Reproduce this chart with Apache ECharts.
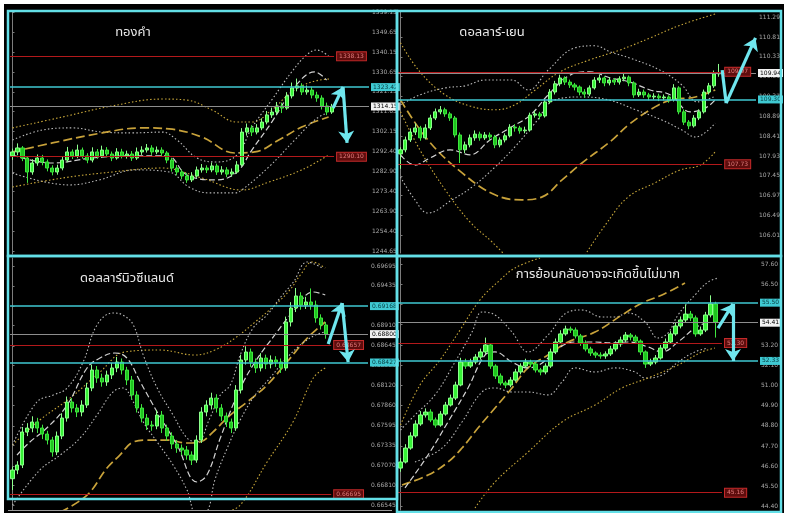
<!DOCTYPE html>
<html><head><meta charset="utf-8">
<script src="https://cdn.jsdelivr.net/npm/echarts@6/dist/echarts.min.js"></script>
<style>html,body{margin:0;padding:0;background:#fff}#c{width:788px;height:518px}</style>
</head><body><div id="c"></div>
<script>
// ---------- titles ----------
const titles = ['ทองคำ', 'ดอลลาร์-เยน', 'ดอลลาร์นิวซีแลนด์', 'การย้อนกลับอาจจะเกิดขึ้นไม่มาก'];

// ---------- y-axis tick labels ----------
const ticks1 = [1244.65,1254.40,1263.90,1273.40,1282.90,1292.40,1302.15,1311.65,1321.15,1330.65,1340.15,1349.65,1359.15];
const ticks2 = [106.01,106.49,106.97,107.45,107.93,108.41,108.89,109.37,109.85,110.33,110.81,111.29];
const ticks3 = [0.66545,0.66810,0.67070,0.67335,0.67595,0.67860,0.68120,0.68385,0.68645,0.68910,0.69170,0.69435,0.69695];
const ticks4 = [44.40,45.50,46.60,47.70,48.80,49.90,51.00,52.10,53.20,54.30,55.40,56.50,57.60];

// ---------- candles [open, close, low, high] ----------
const gold = [
[1290.5,1292.4,1288.6,1294.0],[1292.4,1294.3,1290.8,1296.5],[1294.3,1289.5,1288.0,1295.2],[1289.5,1282.8,1277.6,1290.4],
[1282.8,1287.1,1281.5,1288.9],[1287.1,1289.5,1285.8,1291.2],[1289.5,1287.6,1286.0,1291.0],[1287.6,1284.7,1283.1,1288.8],
[1284.7,1282.8,1281.2,1286.0],[1282.8,1284.7,1281.5,1286.3],[1284.7,1288.5,1283.6,1290.0],[1288.5,1292.4,1287.5,1294.8],
[1292.4,1290.5,1289.0,1293.6],[1290.5,1293.3,1289.4,1295.9],[1293.3,1290.5,1289.2,1294.5],[1290.5,1288.5,1287.0,1291.8],
[1288.5,1292.4,1287.4,1294.6],[1292.4,1290.5,1289.1,1293.8],[1290.5,1293.3,1289.5,1295.4],[1293.3,1291.4,1290.0,1294.7],
[1291.4,1289.5,1288.0,1292.6],[1289.5,1292.4,1288.7,1294.2],[1292.4,1290.5,1289.3,1293.9],[1290.5,1291.4,1289.2,1293.0],
[1291.4,1289.5,1288.1,1292.8],[1289.5,1292.4,1288.6,1294.5],[1292.4,1293.3,1291.0,1295.1],[1293.3,1294.3,1292.1,1296.2],
[1294.3,1292.4,1291.0,1295.6],[1292.4,1293.3,1291.3,1295.0],[1293.3,1291.9,1290.4,1294.6],[1291.9,1288.5,1287.0,1292.8],
[1288.5,1284.7,1283.0,1289.6],[1284.7,1282.8,1281.2,1286.1],[1282.8,1280.9,1279.3,1284.0],[1280.9,1279.0,1277.6,1282.4],
[1279.0,1280.9,1278.0,1282.7],[1280.9,1283.8,1280.0,1285.4],[1283.8,1284.7,1282.5,1286.6],[1284.7,1283.8,1282.3,1286.0],
[1283.8,1285.7,1282.7,1287.3],[1285.7,1282.8,1281.4,1286.8],[1282.8,1283.8,1281.5,1285.6],[1283.8,1281.8,1280.4,1285.1],
[1281.8,1282.8,1280.6,1284.5],[1282.8,1286.2,1281.9,1288.0],[1286.2,1301.9,1285.4,1303.8],[1301.9,1303.9,1300.2,1306.0],
[1303.9,1301.9,1300.0,1305.2],[1301.9,1303.9,1300.8,1305.7],[1303.9,1306.7,1302.8,1308.5],[1306.7,1310.1,1305.6,1312.0],
[1310.1,1311.5,1308.7,1313.6],[1311.5,1314.4,1310.3,1316.3],[1314.4,1313.4,1311.0,1316.0],[1313.4,1319.2,1312.6,1321.0],
[1319.2,1323.0,1318.0,1325.6],[1323.0,1324.0,1321.4,1327.5],[1324.0,1321.1,1319.6,1325.3],[1321.1,1322.0,1319.8,1324.2],
[1322.0,1319.6,1318.0,1323.6],[1319.6,1318.2,1316.4,1321.2],[1318.2,1314.4,1312.7,1319.5],[1314.4,1311.5,1310.0,1316.0],
[1311.5,1314.2,1310.6,1315.4]];

const usdjpy = [
[107.98,108.08,107.62,108.14],[108.08,108.32,108.02,108.40],[108.32,108.51,108.27,108.60],[108.51,108.61,108.44,108.72],
[108.61,108.37,108.30,108.66],[108.37,108.61,108.33,108.70],[108.61,108.85,108.56,108.93],[108.85,109.00,108.80,109.08],
[109.00,109.05,108.94,109.14],[109.05,108.95,108.88,109.10],[108.95,108.85,108.78,109.00],[108.85,108.44,108.38,108.90],
[108.44,108.08,107.76,108.50],[108.08,108.20,108.00,108.28],[108.20,108.37,108.14,108.45],[108.37,108.46,108.30,108.55],
[108.46,108.37,108.30,108.52],[108.37,108.44,108.32,108.51],[108.44,108.39,108.31,108.50],[108.39,108.20,108.12,108.44],
[108.20,108.32,108.14,108.38],[108.32,108.42,108.26,108.48],[108.42,108.63,108.38,108.70],[108.63,108.61,108.52,108.70],
[108.61,108.54,108.47,108.66],[108.54,108.56,108.48,108.64],[108.56,108.92,108.52,108.98],[108.92,108.95,108.86,109.03],
[108.95,108.90,108.82,109.00],[108.90,109.24,108.86,109.30],[109.24,109.48,109.20,109.55],[109.48,109.68,109.42,109.75],
[109.68,109.82,109.62,109.90],[109.82,109.72,109.65,109.86],[109.72,109.65,109.58,109.78],[109.65,109.60,109.52,109.70],
[109.60,109.48,109.40,109.64],[109.48,109.43,109.34,109.55],[109.43,109.58,109.38,109.64],[109.58,109.77,109.54,109.84],
[109.77,109.82,109.70,109.90],[109.82,109.70,109.62,109.86],[109.70,109.77,109.64,109.84],[109.77,109.72,109.65,109.82],
[109.72,109.80,109.66,109.86],[109.80,109.84,109.74,109.92],[109.84,109.70,109.62,109.88],[109.70,109.41,109.34,109.74],
[109.41,109.48,109.36,109.56],[109.48,109.41,109.34,109.54],[109.41,109.36,109.28,109.46],[109.36,109.38,109.30,109.45],
[109.38,109.34,109.26,109.44],[109.34,109.36,109.28,109.42],[109.36,109.29,109.22,109.40],[109.29,109.58,109.25,109.67],
[109.58,109.00,108.94,109.62],[109.00,108.75,108.68,109.06],[108.75,108.66,108.58,108.80],[108.66,108.85,108.62,108.92],
[108.85,109.00,108.80,109.06],[109.00,109.48,108.96,109.54],[109.48,109.63,109.42,109.70],[109.63,109.92,109.58,110.00],
[109.92,109.94,109.85,110.16]];

const nzdusd = [
[0.66900,0.67014,0.66751,0.67060],[0.67014,0.67080,0.66960,0.67130],[0.67080,0.67514,0.67040,0.67580],[0.67514,0.67566,0.67460,0.67630],
[0.67566,0.67645,0.67510,0.67720],[0.67645,0.67566,0.67500,0.67700],[0.67566,0.67487,0.67420,0.67610],[0.67487,0.67408,0.67350,0.67530],
[0.67408,0.67251,0.67190,0.67450],[0.67251,0.67461,0.67210,0.67520],[0.67461,0.67697,0.67420,0.67760],[0.67697,0.67908,0.67650,0.67980],
[0.67908,0.67829,0.67770,0.67960],[0.67829,0.67776,0.67710,0.67880],[0.67776,0.67868,0.67720,0.67930],[0.67868,0.68092,0.67830,0.68160],
[0.68092,0.68328,0.68050,0.68400],[0.68328,0.68223,0.68160,0.68380],[0.68223,0.68171,0.68110,0.68280],[0.68171,0.68263,0.68120,0.68320],
[0.68263,0.68355,0.68210,0.68420],[0.68355,0.68433,0.68300,0.68500],[0.68433,0.68328,0.68270,0.68480],[0.68328,0.68197,0.68130,0.68370],
[0.68197,0.68000,0.67940,0.68250],[0.68000,0.67829,0.67770,0.68050],[0.67829,0.67697,0.67640,0.67880],[0.67697,0.67606,0.67540,0.67750],
[0.67606,0.67592,0.67530,0.67660],[0.67592,0.67737,0.67550,0.67800],[0.67737,0.67566,0.67500,0.67790],[0.67566,0.67461,0.67400,0.67610],
[0.67461,0.67356,0.67290,0.67510],[0.67356,0.67303,0.67240,0.67410],[0.67303,0.67277,0.67210,0.67350],[0.67277,0.67211,0.67150,0.67330],
[0.67211,0.67145,0.67080,0.67260],[0.67145,0.67408,0.67110,0.67470],[0.67408,0.67776,0.67370,0.67840],[0.67776,0.67868,0.67720,0.67930],
[0.67868,0.67960,0.67810,0.68030],[0.67960,0.67829,0.67770,0.68010],[0.67829,0.67724,0.67660,0.67880],[0.67724,0.67645,0.67580,0.67770],
[0.67645,0.67566,0.67500,0.67690],[0.67566,0.68066,0.67530,0.68130],[0.68066,0.68460,0.68020,0.68530],[0.68460,0.68565,0.68400,0.68640],
[0.68565,0.68433,0.68370,0.68610],[0.68433,0.68355,0.68290,0.68480],[0.68355,0.68486,0.68310,0.68550],[0.68486,0.68407,0.68340,0.68530],
[0.68407,0.68460,0.68350,0.68520],[0.68460,0.68433,0.68370,0.68510],[0.68433,0.68355,0.68290,0.68480],[0.68355,0.68959,0.68320,0.69030],
[0.68959,0.69143,0.68900,0.69220],[0.69143,0.69301,0.69090,0.69406],[0.69301,0.69182,0.69120,0.69350],[0.69182,0.69222,0.69130,0.69290],
[0.69222,0.69182,0.69120,0.69400],[0.69182,0.69012,0.68950,0.69240],[0.69012,0.68920,0.68860,0.69060],[0.68920,0.68801,0.68740,0.68960]];

const oil = [
[46.50,46.83,46.30,47.05],[46.83,47.59,46.75,47.80],[47.59,48.25,47.50,48.45],[48.25,48.90,48.15,49.10],
[48.90,49.39,48.80,49.60],[49.39,49.55,49.25,49.75],[49.55,49.12,49.00,49.70],[49.12,48.84,48.70,49.25],
[48.84,49.44,48.75,49.60],[49.44,49.93,49.35,50.10],[49.93,50.31,49.85,50.50],[50.31,51.02,50.20,51.20],
[51.02,52.27,50.95,52.50],[52.27,52.05,51.90,52.45],[52.05,52.27,51.95,52.45],[52.27,52.54,52.15,52.70],
[52.54,52.82,52.40,53.00],[52.82,53.20,52.70,53.60],[53.20,52.05,51.90,53.30],[52.05,51.51,51.35,52.15],
[51.51,51.13,51.00,51.65],[51.13,51.02,50.85,51.25],[51.02,51.29,50.90,51.45],[51.29,51.73,51.20,51.90],
[51.73,52.05,51.60,52.20],[52.05,52.27,51.95,52.45],[52.27,52.16,52.00,52.40],[52.16,51.84,51.70,52.30],
[51.84,51.73,51.55,51.95],[51.73,52.05,51.60,52.20],[52.05,52.82,51.95,53.00],[52.82,53.36,52.70,53.55],
[53.36,53.80,53.25,54.00],[53.80,54.07,53.70,54.25],[54.07,54.01,53.85,54.20],[54.01,53.69,53.55,54.15],
[53.69,53.31,53.15,53.80],[53.31,52.98,52.85,53.45],[52.98,52.76,52.60,53.10],[52.76,52.65,52.50,52.85],
[52.65,52.60,52.45,52.80],[52.60,52.71,52.45,52.85],[52.71,52.98,52.60,53.15],[52.98,53.25,52.85,53.40],
[53.25,53.47,53.10,53.65],[53.47,53.74,53.35,53.90],[53.74,53.63,53.45,53.85],[53.63,53.41,53.25,53.75],
[53.41,52.82,52.65,53.50],[52.82,52.16,51.95,52.90],[52.16,52.27,52.05,52.45],[52.27,52.49,52.15,52.65],
[52.49,53.03,52.40,53.20],[53.03,53.36,52.90,53.55],[53.36,53.80,53.25,53.95],[53.80,54.23,53.70,54.40],
[54.23,54.56,54.10,54.75],[54.56,54.88,54.45,55.40],[54.88,54.67,54.50,55.05],[54.67,53.80,53.65,54.80],
[53.80,54.01,53.70,54.20],[54.01,54.83,53.90,55.00],[54.83,55.43,54.70,55.90],[55.43,54.45,53.60,55.55]];

// ---------- envelope / average lines [bar index, value] ----------
const g1GoldUp = [[0,1303.9],[10,1309.1],[20,1314.4],[30,1317.7],[35,1317.2],[40,1312.5],[45,1306.7],[48,1306.7],[52,1312.5],[56,1321.1],[60,1325.9],[63.6,1327.3]];
const g1WhiteUp = [[0,1298.1],[6,1302.9],[12,1303.9],[18,1301.9],[24,1301.5],[30,1301.9],[33,1298.1],[37,1289.5],[41,1287.6],[45,1290.9],[48,1303.9],[52,1317.3],[56,1330.7],[59,1338.8],[61,1341.2],[63.6,1337.8]];
const g1GoldDash = [[0,1292.4],[8,1296.7],[18,1301.5],[26,1303.9],[31.4,1303.4],[38,1299.5],[44.6,1291.9],[48.6,1292.4],[53.4,1298.1],[58,1304.3],[63.4,1309.1]];
const g1WhiteDash = [[0,1290.9],[8,1287.1],[16,1289.5],[24,1290.5],[31,1290.5],[35,1281.4],[41,1279.0],[45,1282.8],[48,1293.3],[52,1306.7],[56.6,1323.5],[60.6,1330.7],[63,1326.8]];
const g1WhiteLow = [[0,1282.3],[11.4,1276.6],[17.4,1279.0],[24.6,1283.8],[31.4,1282.8],[35.4,1275.6],[39.4,1272.8],[44.6,1272.8],[46,1274.2],[51.4,1285.2],[56.6,1298.1],[60.6,1307.7],[63,1311.0]];
const g1GoldLow = [[0,1275.6],[10,1279.9],[20,1282.8],[30,1284.7],[38,1279.9],[46,1274.2],[51.4,1278.0],[58,1283.8],[63.4,1290.9]];

const g2GoldUp = [[0,110.67],[3.9,109.97],[9,109.41],[14,109.14],[19,109.05],[23,109.17],[27.1,109.53],[32.1,109.97],[38.1,110.26],[44.2,110.50],[50.2,110.79],[56.3,111.10],[63.3,111.37]];
const g2WhiteUp = [[0,109.17],[3.9,109.41],[9,109.58],[13,109.63],[17,109.77],[22.4,109.77],[25.7,109.53],[29.7,110.01],[35.1,110.55],[39.1,110.60],[42.2,110.45],[46.2,110.30],[52.2,110.01],[56.6,109.65],[59.7,109.24],[63.3,109.38]];
const g2GoldDash = [[0,109.29],[5.5,108.32],[12.4,107.52],[19,106.99],[24.4,106.87],[28.5,106.94],[32.5,107.35],[36.5,107.76],[42.6,108.32],[45.8,108.68],[51.2,109.12],[54.6,109.29],[59.3,109.36],[63.3,109.53]];
const g2WhiteDash = [[0,107.96],[2.9,107.71],[5.9,107.88],[10,108.08],[14,107.96],[18,108.32],[22,108.61],[26.1,108.92],[29.7,109.41],[34.1,109.89],[38.1,109.97],[42.2,109.82],[46.2,109.72],[50.2,109.53],[54.3,109.41],[58.3,109.00],[61.3,109.09],[63.3,109.29]];
const g2WhiteLow = [[0,107.42],[2.9,106.87],[5.5,106.55],[10.4,106.87],[14.4,107.18],[19,107.66],[23,108.15],[27.1,108.73],[31.1,109.29],[36.5,109.36],[41.8,109.29],[47.3,109.05],[52.6,108.80],[56.6,108.56],[59.3,108.39],[63.3,108.73]];
const g2GoldLowA = [[0,109.00],[3.9,108.08],[9,107.11],[14,106.33],[18.4,105.85],[21,105.53]];
const g2GoldLowB = [[37.1,105.53],[41.2,106.26],[45.8,106.94],[51.2,107.28],[56.2,107.59],[60.3,107.71],[63.3,108.03]];

const g3GoldUp = [[0,0.67343],[5.5,0.67671],[11.6,0.67960],[17.6,0.68302],[22.6,0.68565],[29.7,0.68591],[36.7,0.68525],[40.7,0.68591],[44.8,0.68749],[48.8,0.68959],[52.8,0.69182],[55.8,0.69381],[57.9,0.69577],[60.3,0.69748],[62.9,0.69669]];
const g3WhiteUp = [[0,0.67343],[4.9,0.67908],[8.2,0.68000],[11,0.68092],[14.2,0.68433],[17,0.68920],[20.2,0.69077],[22.2,0.69051],[24.3,0.68920],[26.3,0.68525],[29.1,0.68092],[32.3,0.67737],[35.1,0.67435],[37.1,0.67382],[39.7,0.67697],[41.8,0.68000],[43.8,0.68131],[45.8,0.68525],[48.4,0.68880],[51.2,0.69051],[53.8,0.69275],[56.5,0.69485],[59.3,0.69748],[62.3,0.69669]];
const g3GoldDash = [[9.6,0.66462],[15,0.66685],[19,0.67040],[21.6,0.67211],[24.3,0.67382],[27.1,0.67408],[31.1,0.67408],[35.1,0.67369],[37.7,0.67382],[40.3,0.67513],[43.8,0.67737],[47.2,0.67908],[51.2,0.68131],[55.2,0.68433],[59.3,0.68749],[62.9,0.68959]];
const g3WhiteDash = [[0.9,0.67211],[3.5,0.67382],[6.9,0.67566],[11,0.67868],[15,0.68355],[17.6,0.68486],[20.6,0.68552],[23,0.68486],[25.7,0.68171],[29.1,0.67776],[33.1,0.67343],[37.1,0.66857],[39.1,0.66949],[41.8,0.67435],[45.2,0.68000],[48.4,0.68394],[53.2,0.68828],[56.4,0.69090],[60.5,0.69353],[62.9,0.69314]];
const g3WhiteLow = [[0,0.66554],[5.5,0.67014],[9.6,0.67211],[13.6,0.67435],[17,0.67737],[20.2,0.68039],[22.2,0.68092],[24.3,0.67908],[26.3,0.67645],[29.1,0.67382],[32.3,0.67080],[35.1,0.66751],[37.1,0.66422],[39.1,0.66462],[40.7,0.66883],[43.2,0.67303],[45.8,0.67671],[48.8,0.68000],[51.8,0.68223],[54.8,0.68460],[57.9,0.68657],[60.9,0.68788],[62.9,0.68828]];
const g3GoldLow = [[42.8,0.66462],[45.8,0.66554],[51.2,0.67119],[56.4,0.67645],[60.5,0.68223],[62.9,0.68355]];

const g4GoldUp = [[0,48.84],[3.9,51.02],[7.9,52.38],[11.9,54.01],[15.9,55.65],[19.9,56.73],[22.9,57.39],[27.9,57.93]];
const g4WhiteUp = [[0,48.57],[2.9,49.39],[6.9,50.48],[10.9,52.27],[14.3,53.90],[16.3,54.99],[18.9,54.83],[22.3,53.90],[25.5,52.82],[29.5,53.74],[33.5,54.99],[36.3,55.10],[40.3,54.72],[42.9,54.72],[45.5,54.94],[48.9,54.45],[51.5,53.58],[53.5,53.85],[55.5,54.83],[58.9,55.92],[61.5,56.62],[63.5,56.84]];
const g4GoldDash = [[0.3,45.58],[5.5,46.12],[9.5,46.83],[12.3,47.59],[15.5,48.68],[18.9,49.77],[22.3,50.86],[25.5,51.95],[29.5,52.65],[33.5,53.36],[38.9,53.90],[44.3,54.83],[48.3,55.48],[52.3,55.92],[56.9,56.57]];
const g4WhiteDash = [[0.9,45.42],[5.5,47.21],[9.5,49.01],[13.5,50.86],[16.9,52.65],[18.9,52.82],[22.3,52.27],[25.5,51.95],[34.9,53.36],[38.9,53.36],[42.3,53.31],[45.5,53.36],[49.5,53.09],[52.3,52.82],[55.5,53.36],[58.9,54.12],[61.5,54.45]];
const g4WhiteLow = [[2.9,46.83],[8.3,47.59],[12.3,49.01],[16.3,50.64],[18.9,50.86],[22.3,50.64],[25.5,50.64],[29.5,50.48],[32.3,51.18],[34.9,51.95],[38.9,51.73],[42.9,51.95],[46.9,51.73],[48.9,51.40],[52.3,51.56],[55.5,52.27],[58.9,52.82],[61.5,53.03]];
const g4GoldLow = [[14.9,44.33],[18.9,45.74],[25.5,47.37],[32.3,49.01],[38.9,49.93],[44.3,50.86],[49.5,51.40],[55.5,52.11],[60.3,52.82],[62.9,53.03]];

// ---------- horizontal levels ----------
const red1 = [1338.13, 1290.10], cyan1 = [1323.42], white1 = [1314.15];
const red2 = [109.97, 107.73], cyan2 = [109.30], white2 = [109.94];
const red3 = [0.68657, 0.66695], cyan3 = [0.69168, 0.68427], white3 = [0.68800];
const red4 = [53.30, 45.16], cyan4 = [55.50, 52.33], white4 = [54.41];

// ---------- arrows [bar index, value] ----------
const arrowHead1 = [[[64.3,1313.4],[66.3,1323.5]], [[66.3,1323.3],[67.1,1296.7]]];
const arrowPlain1 = [];
const arrowHead2 = [[[65.5,109.21],[71.4,110.79]]];
const arrowPlain2 = [[[64.7,110.01],[65.5,109.21]]];
const arrowHead3 = [[[63.5,0.68670],[66.3,0.69208]], [[66.3,0.69208],[67.5,0.68433]]];
const arrowPlain3 = [];
const arrowHead4 = [[[63.5,54.12],[66.5,55.43]], [[66.5,55.43],[66.5,52.33]]];
const arrowPlain4 = [];

const N = 72;
const categories = Array.from({length: N}, (_, i) => String(i));

const ST = {
  goldDot:   {color:'#c9a83a', type:[1.5,2.2], width:1.1},
  whiteDot:  {color:'#b9b9b9', type:[1.5,2.2], width:1.1},
  goldDash:  {color:'#c8a23a', type:[9,4], width:1.7},
  whiteDash: {color:'#d2d2d2', type:[6,3], width:1.2}
};
const FONT = 'DejaVu Sans';

const panels = [
  {grid:{left:10,top:12,width:359,height:242}, min:1243.56, max:1359.36, ticks:ticks1, dec:2, candles:gold,
   bands:[[g1GoldUp,'goldDot'],[g1WhiteUp,'whiteDot'],[g1GoldDash,'goldDash'],[g1WhiteDash,'whiteDash'],[g1WhiteLow,'whiteDot'],[g1GoldLow,'goldDot']],
   red:red1, cyan:cyan1, white:white1, redEnd:64.5, head:arrowHead1, plain:arrowPlain1},
  {grid:{left:398,top:12,width:358,height:241}, min:105.581, max:111.418, ticks:ticks2, dec:2, candles:usdjpy,
   bands:[[g2GoldUp,'goldDot'],[g2WhiteUp,'whiteDot'],[g2GoldDash,'goldDash'],[g2WhiteDash,'whiteDash'],[g2WhiteLow,'whiteDot'],[g2GoldLowA,'goldDot'],[g2GoldLowB,'goldDot']],
   red:red2, cyan:cyan2, white:white2, redEnd:64.7, head:arrowHead2, plain:arrowPlain2},
  {grid:{left:10,top:258,width:358,height:252}, min:0.66489, max:0.69800, ticks:ticks3, dec:5, candles:nzdusd,
   bands:[[g3GoldUp,'goldDot'],[g3WhiteUp,'whiteDot'],[g3GoldDash,'goldDash'],[g3WhiteDash,'whiteDash'],[g3WhiteLow,'whiteDot'],[g3GoldLow,'goldDot']],
   red:red3, cyan:cyan3, white:white3, redEnd:64.1, head:arrowHead3, plain:arrowPlain3},
  {grid:{left:398,top:258,width:360,height:252}, min:44.22, max:57.93, ticks:ticks4, dec:2, candles:oil,
   bands:[[g4GoldUp,'goldDot'],[g4WhiteUp,'whiteDot'],[g4GoldDash,'goldDash'],[g4WhiteDash,'whiteDash'],[g4WhiteLow,'whiteDot'],[g4GoldLow,'goldDot']],
   red:red4, cyan:cyan4, white:white4, redEnd:64.3, head:arrowHead4, plain:arrowPlain4}
];

const grid = [], xAxis = [], yAxis = [], series = [];
panels.forEach((p, k) => {
  grid.push(p.grid);
  xAxis.push({type:'category', gridIndex:k, data:categories, show:false, boundaryGap:true});
  yAxis.push({type:'value', gridIndex:k, position:'right', min:p.min, max:p.max, scale:true,
    axisLine:{show:true, lineStyle:{color:'#7c7c7c', width:1}},
    axisTick:{show:true, length:2, customValues:p.ticks, lineStyle:{color:'#7c7c7c'}},
    axisLabel:{customValues:p.ticks, color:'#a9a9a9', fontSize:6, fontFamily:FONT, margin:3,
      formatter: v => Number(v).toFixed(p.dec)},
    splitLine:{show:false}});
});
panels.forEach((p, k) => {
  xAxis.push({type:'value', gridIndex:k, min:-0.5, max:N-0.5, show:false});
});

const lblBase = {show:true, position:'end', fontSize:6, fontFamily:FONT, padding:[1,2], distance:2};
panels.forEach((p, k) => {
  series.push({type:'candlestick', xAxisIndex:k, yAxisIndex:k, data:p.candles, barWidth:'72%', z:3,
    itemStyle:{color:'#36f236', color0:'#1ec41e', borderColor:'#8dff8d', borderColor0:'#3fe63f', borderWidth:1}});
  p.bands.forEach((b, j) => {
    const s = {type:'line', xAxisIndex:4+k, yAxisIndex:k, data:b[0], smooth:0.4, showSymbol:false,
      symbol:'none', lineStyle:ST[b[1]], z:2, silent:true};
    if (j === 0) {
      const md = [];
      p.white.forEach(v => md.push([{coord:[-0.5,v], lineStyle:{color:'#8d8d8d', width:1, type:'solid'},
        label:Object.assign({}, lblBase, {formatter:v.toFixed(p.dec), color:'#000', backgroundColor:'#f2f2f2'})},
        {coord:[N-0.5,v]}]));
      p.cyan.forEach(v => md.push([{coord:[-0.5,v], lineStyle:{color:'#3fc9d2', width:1.6, type:'solid'},
        label:Object.assign({}, lblBase, {formatter:v.toFixed(p.dec), color:'#073c40', backgroundColor:'#3fc9d2'})},
        {coord:[N-0.5,v]}]));
      p.red.forEach(v => md.push([{coord:[-0.5,v], lineStyle:{color:'#b3191b', width:1.1, type:'solid'},
        label:Object.assign({}, lblBase, {formatter:v.toFixed(p.dec), color:'#e07a7a', backgroundColor:'#5e0d0d', borderColor:'#c42a2a', borderWidth:1, distance:3})},
        {coord:[p.redEnd,v]}]));
      s.markLine = {silent:true, symbol:['none','none'], animation:false, data:md, z:4};
    }
    series.push(s);
  });
  if (p.plain.length) series.push({type:'lines', coordinateSystem:'cartesian2d', xAxisIndex:4+k, yAxisIndex:k,
    data:p.plain.map(c => ({coords:c})), symbol:['none','none'], z:10, silent:true,
    lineStyle:{color:'#6fe6ee', width:3.2, opacity:1, curveness:0}});
  series.push({type:'lines', coordinateSystem:'cartesian2d', xAxisIndex:4+k, yAxisIndex:k,
    data:p.head.map(c => ({coords:c})), symbol:['none','arrow'], symbolSize:12, z:10, silent:true,
    lineStyle:{color:'#6fe6ee', width:3.2, opacity:1, curveness:0}});
});

const titleFont = '13px "Noto Sans Thai", "Noto Sans", "DejaVu Sans", sans-serif';
const titlePos = [[133,33],[492,33],[127,279],[598,275]];
const graphic = [];
titles.forEach((t, i) => graphic.push({type:'text', x:titlePos[i][0], y:titlePos[i][1], z:50,
  style:{text:t, fill:'#e8e8e8', font:titleFont, textAlign:'center', textVerticalAlign:'middle'}}));
// panel frames
[[8,11,389,245],[397,11,384,245],[8,256,389,243],[397,256,384,256]].forEach(r => graphic.push({type:'rect', z:60,
  shape:{x:r[0], y:r[1], width:r[2], height:r[3]}, style:{fill:'none', stroke:'#63dfe7', lineWidth:2.5}}));
graphic.push({type:'line', z:60, shape:{x1:8, y1:510.5, x2:392, y2:510.5}, style:{stroke:'#9a9a9a', lineWidth:1.2}});
// white page margin
[[0,0,788,4],[0,513,788,5],[0,0,4,518],[784,0,4,518]].forEach(r => graphic.push({type:'rect', z:70,
  shape:{x:r[0], y:r[1], width:r[2], height:r[3]}, style:{fill:'#ffffff'}}));

const chart = echarts.init(document.getElementById('c'), null, {renderer:'canvas'});
chart.setOption({backgroundColor:'#000', animation:false, grid, xAxis, yAxis, series, graphic});
</script></body></html>
